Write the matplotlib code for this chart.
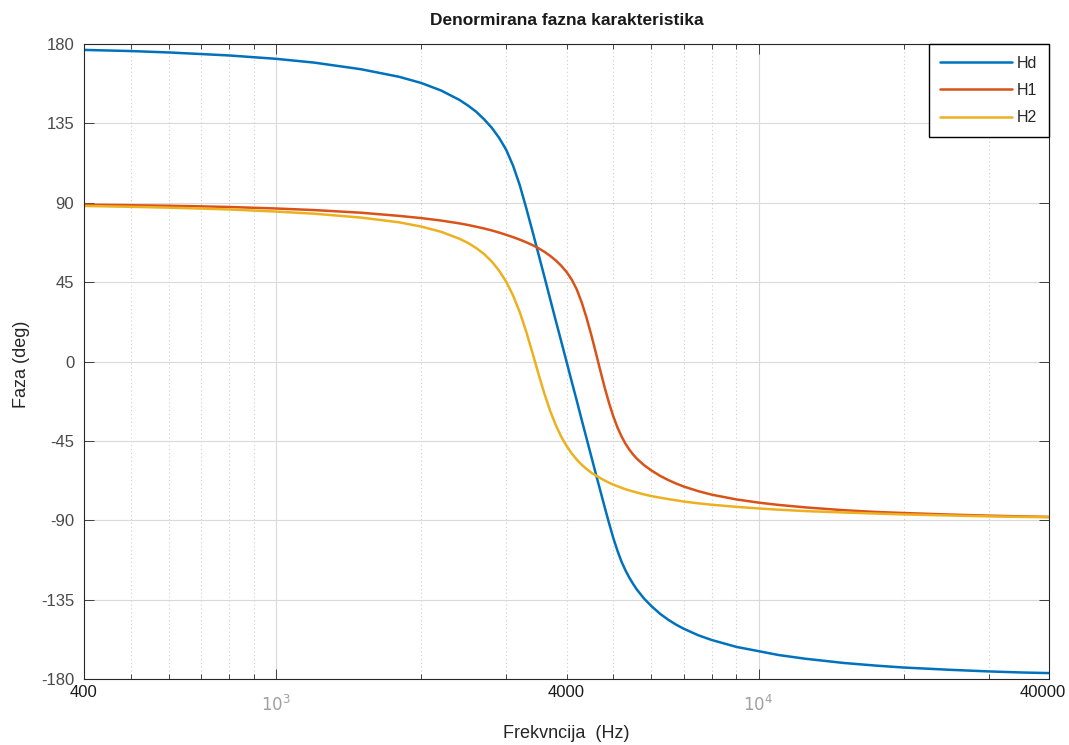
import matplotlib
matplotlib.use("Agg")
import matplotlib.pyplot as plt
from matplotlib.ticker import FixedLocator, NullFormatter

plt.rcParams['font.family'] = ['Liberation Sans', 'DejaVu Sans']

# ---- data ----
freq_hz = [400, 500, 600, 700, 800, 1000, 1200, 1500, 1800, 2000,
           2200, 2400, 2500, 2600, 2700, 2800, 2900, 3000, 3100, 3200,
           3300, 3400, 3500, 3600, 3700, 3800, 3900, 4000, 4100, 4200,
           4300, 4400, 4500, 4600, 4700, 4800, 4900, 5000, 5100, 5200,
           5300, 5400, 5500, 5600, 5800, 6000, 6250, 6500, 6750, 7000,
           7500, 8000, 9000, 10000, 11000, 12500, 15000, 17500, 20000, 25000,
           30000, 35000, 40000]

phase_hd = [176.65, 176.0, 175.2, 174.3, 173.5, 171.6, 169.45, 165.7, 161.4, 157.9,
            153.6, 148.3, 145.1, 141.6, 137.3, 132.5, 126.8, 120.0, 111.0, 100.0,
            87.1, 73.9, 60.8, 48.0, 35.4, 23.2, 11.5, 0.0, -11.3, -22.1,
            -33.0, -43.4, -53.6, -63.6, -73.2, -82.6, -91.6, -100.0, -107.2, -113.45,
            -118.4, -122.6, -126.2, -129.4, -134.6, -138.7, -143.0, -146.4, -149.2, -151.5,
            -155.2, -157.9, -161.8, -164.2, -166.4, -168.5, -170.9, -172.4, -173.5, -174.8,
            -175.7, -176.3, -176.65]

phase_h1 = [88.9, 88.6, 88.3, 87.95, 87.6, 86.75, 85.85, 84.35, 82.55, 81.3,
            79.9, 78.3, 77.4, 76.4, 75.4, 74.3, 73.1, 71.8, 70.5, 69.1,
            67.6, 66.0, 64.2, 62.2, 59.9, 57.3, 54.3, 50.8, 46.5, 40.9,
            33.6, 24.9, 15.3, 5.1, -5.1, -14.8, -23.5, -31.0, -37.3, -42.4,
            -46.6, -50.0, -52.8, -55.2, -58.9, -61.8, -64.8, -67.2, -69.2, -70.9,
            -73.5, -75.5, -78.2, -80.0, -81.3, -82.7, -84.3, -85.3, -85.9, -86.8,
            -87.4, -87.8, -88.1]

phase_h2 = [88.2, 87.7, 87.2, 86.7, 86.2, 85.0, 83.8, 81.6, 78.9, 76.5,
            73.5, 69.6, 67.2, 64.3, 60.9, 56.7, 51.5, 45.2, 37.4, 28.0,
            17.0, 5.0, -7.1, -18.3, -28.0, -36.0, -42.6, -47.8, -52.1, -55.6,
            -58.5, -60.9, -63.0, -64.6, -66.1, -67.5, -68.7, -69.8, -70.7, -71.6,
            -72.4, -73.1, -73.7, -74.3, -75.4, -76.3, -77.2, -78.0, -78.7, -79.4,
            -80.4, -81.2, -82.4, -83.3, -84.0, -84.8, -85.6, -86.2, -86.7, -87.3,
            -87.8, -88.1, -88.3]

series_names = ["Hd", "H1", "H2"]
series_colors = ["#0072BD", "#D95319", "#EDB120"]

y_ticks = [-180, -135, -90, -45, 0, 45, 90, 135, 180]
x_major = [1000, 10000]
x_major_labels = [r"$10^{3}$", r"$10^{4}$"]
x_minor = [500, 600, 700, 800, 900, 2000, 3000, 4000, 5000, 6000, 7000, 8000, 9000,
           20000, 30000]
x_custom = [400, 4000, 40000]
x_custom_labels = ["400", "4000", "40000"]

title = "Denormirana fazna karakteristika"
xlabel = "Frekvncija  (Hz)"
ylabel = "Faza (deg)"

# ---- figure ----
W, H = 1069, 745
fig = plt.figure(figsize=(W / 100, H / 100), dpi=100)
ax = fig.add_axes([84 / W, 1 - 679 / H, (1049 - 84) / W, (679 - 44) / H])

for vals, name, col in zip([phase_hd, phase_h1, phase_h2], series_names, series_colors):
    ax.plot(freq_hz, vals, color=col, lw=1.8, label=name,
            solid_capstyle='round', solid_joinstyle='round')

ax.set_xscale('log')
ax.set_xlim(400, 40000)
ax.set_ylim(-180, 180)

ax.xaxis.set_major_locator(FixedLocator(x_major))
ax.xaxis.set_minor_locator(FixedLocator(x_minor))
ax.xaxis.set_major_formatter(NullFormatter())
ax.xaxis.set_minor_formatter(NullFormatter())
ax.set_yticks(y_ticks)
ax.set_yticklabels([str(v) for v in y_ticks])

ax.grid(which='major', color='#dadada', lw=0.8, ls='-')
ax.grid(which='minor', axis='x', color='#cfcfcf', lw=0.8, ls=(0, (1, 2.5)))
ax.set_axisbelow(True)

ax.tick_params(which='both', direction='in', top=True, right=True, color='#262626', width=0.6)
ax.tick_params(which='major', length=7)
ax.tick_params(which='minor', length=3.3)
ax.tick_params(axis='y', labelsize=12, labelcolor='#4a4a4a', pad=7)
for sp in ax.spines.values():
    sp.set_color('#262626')
    sp.set_linewidth(0.8)

# x tick labels
for f, lab in zip(x_major, x_major_labels):
    ax.annotate(lab, xy=(f, 0), xycoords=('data', 'axes fraction'), xytext=(0, -11),
                textcoords='offset points', ha='center', va='top', fontsize=12,
                color='#a0a0a0')
for f, lab in zip(x_custom, x_custom_labels):
    dx = 12 if f == x_custom[-1] else 0
    ha = 'right' if f == x_custom[-1] else 'center'
    ax.annotate(lab, xy=(f, 0), xycoords=('data', 'axes fraction'), xytext=(dx, -4),
                textcoords='offset points', ha=ha, va='top', fontsize=12,
                color='#1a1a1a')

ax.set_title(title, fontsize=12.5, fontweight='bold', pad=14, color='#1a1a1a')
fig.text(566 / W, 1 - 733 / H, xlabel, ha='center', va='center', fontsize=13, color='#262626')
fig.text(22 / W, 1 - 364 / H, ylabel, ha='center', va='center', rotation=90, fontsize=13,
         color='#262626')

leg = ax.legend(loc='upper right', bbox_to_anchor=(1, 1), borderaxespad=0, fontsize=11.5,
                frameon=True, fancybox=False, edgecolor='black', framealpha=1,
                handlelength=4.5, handletextpad=0.31, labelspacing=0.78, borderpad=0.72)
leg.get_frame().set_linewidth(1.0)
for t in leg.get_texts():
    t.set_color('#262626')

fig.savefig("out.png", dpi=100, facecolor='white')
